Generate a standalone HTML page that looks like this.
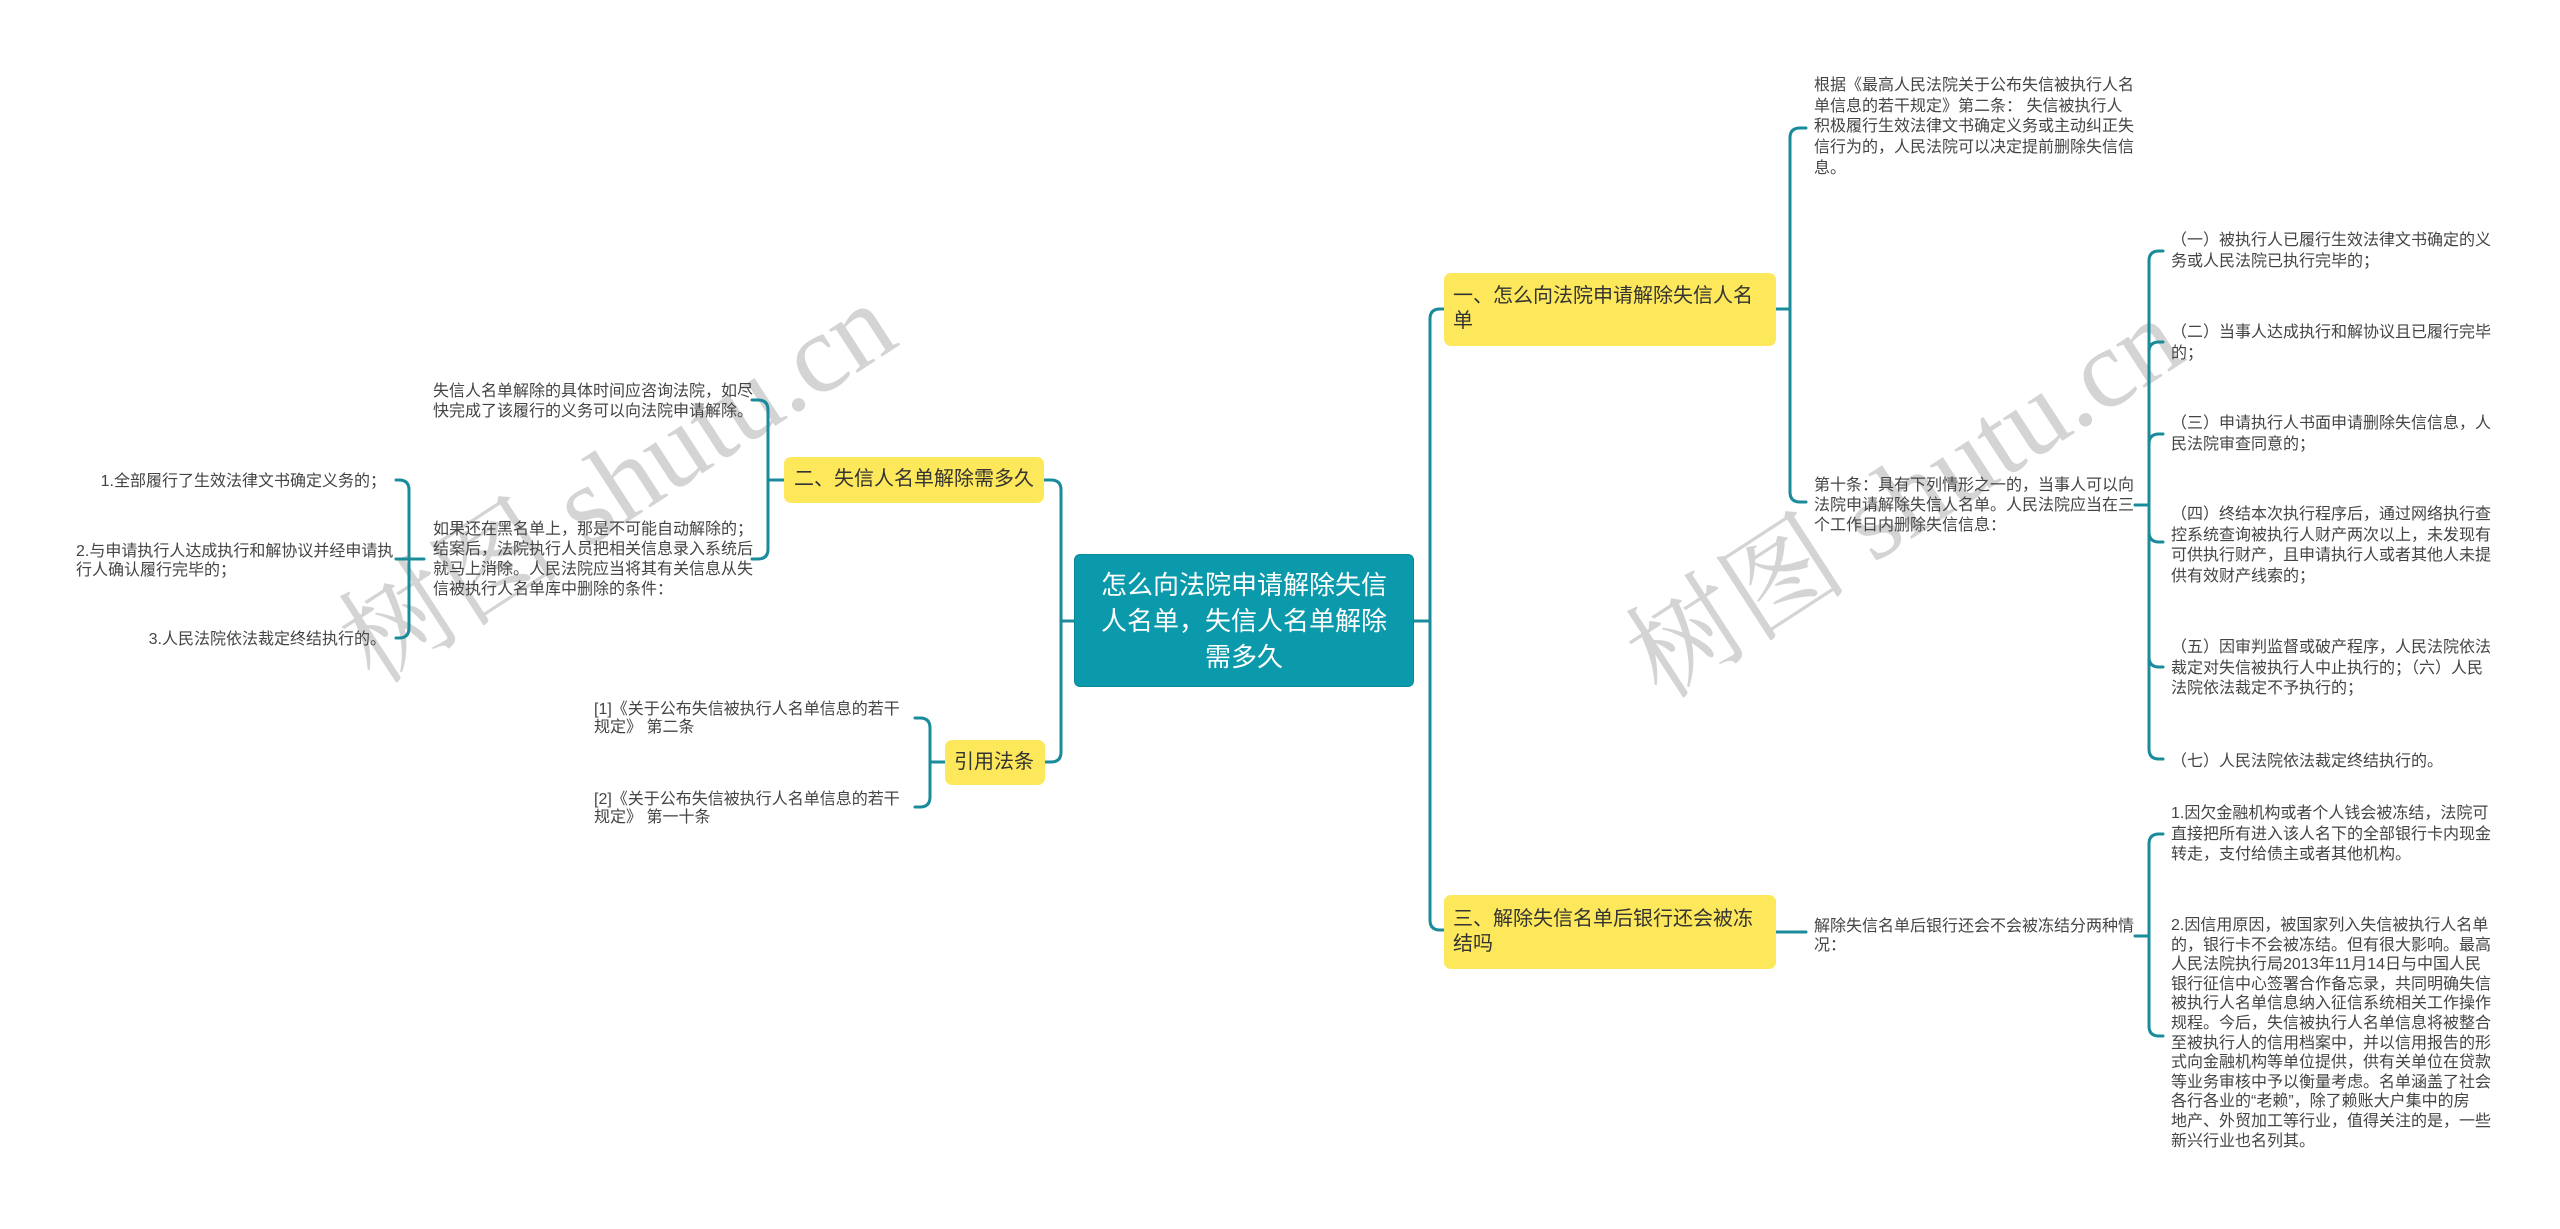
<!DOCTYPE html>
<html><head><meta charset="utf-8">
<style>
html,body{margin:0;padding:0;background:#fff;}
body{width:2560px;height:1229px;position:relative;overflow:hidden;font-family:"Liberation Sans","Noto Sans CJK SC",sans-serif;}
.t{position:absolute;font-size:16px;color:#444;line-height:21px;white-space:nowrap;}
.y{position:absolute;background:#fde75a;border-radius:7px;color:#333;font-size:20px;line-height:25px;box-sizing:border-box;}
.c{position:absolute;background:#0b9aab;border-radius:6px;color:#fff;font-size:26px;line-height:36px;text-align:center;box-sizing:border-box;border:1px solid #08899a;}
.wm{position:absolute;font-family:"Liberation Serif","Noto Serif CJK SC",serif;font-size:112px;color:#d4d4d4;white-space:nowrap;transform-origin:0 100%;transform:rotate(-33deg);line-height:1;}
svg{position:absolute;left:0;top:0;}
</style></head><body>
<div class="wm" style="left:385px;top:590px;">树图 shutu.cn</div>
<div class="wm" style="left:1672px;top:605px;">树图 shutu.cn</div>
<svg width="2560" height="1229" fill="none" stroke="#1a8b9a" stroke-width="3" stroke-linecap="round">
<path d="M1414 621 H1430 V319 Q1430 309 1440 309 H1444"/>
<path d="M1430 621 V920 Q1430 930 1440 930 H1444"/>
<path d="M1074 621 H1061 V490 Q1061 480 1051 480 H1044"/>
<path d="M1061 621 V752 Q1061 762 1051 762 H1044"/>
<path d="M784 480 H768 V410 Q768 400 758 400 H752"/>
<path d="M768 480 V549 Q768 559 758 559 H752"/>
<path d="M424 559 H396"/>
<path d="M409 559 V490 Q409 480 399 480 H396"/>
<path d="M409 559 V628 Q409 638 399 638 H396"/>
<path d="M945 762 H930 V728 Q930 718 920 718 H915"/>
<path d="M930 762 V797 Q930 807 920 807 H915"/>
<path d="M1776 309 H1790 V138 Q1790 128 1800 128 H1806"/>
<path d="M1790 309 V492 Q1790 502 1800 502 H1806"/>
<path d="M2135 505 H2149 V261 Q2149 251 2159 251 H2163"/>
<path d="M2149 505 V352 Q2149 342 2159 342 H2163"/>
<path d="M2149 505 V444 Q2149 434 2159 434 H2163"/>
<path d="M2149 505 V532 Q2149 542 2159 542 H2163"/>
<path d="M2149 505 V657 Q2149 667 2159 667 H2163"/>
<path d="M2149 505 V749 Q2149 759 2159 759 H2163"/>
<path d="M1776 932 H1806"/>
<path d="M2135 936 H2149 V844 Q2149 834 2159 834 H2163"/>
<path d="M2149 936 V1026 Q2149 1036 2159 1036 H2163"/>
</svg>

<div class="c" style="left:1074px;top:554px;width:340px;height:133px;padding-top:12px;">怎么向法院申请解除失信<br>人名单，失信人名单解除<br>需多久</div>

<div class="y" style="left:1444px;top:273px;width:332px;height:73px;padding:11px 0 0 9px;">一、怎么向法院申请解除失信人名<br>单</div>
<div class="y" style="left:1444px;top:895px;width:332px;height:74px;padding:12px 0 0 9px;">三、解除失信名单后银行还会被冻<br>结吗</div>
<div class="y" style="left:784px;top:457px;width:260px;height:46px;padding:10px 0 0 10px;">二、失信人名单解除需多久</div>
<div class="y" style="left:945px;top:740px;width:100px;height:45px;padding:10px 0 0 9px;">引用法条</div>

<div class="t" style="left:433px;top:382px;line-height:20px;">失信人名单解除的具体时间应咨询法院，如尽<br>快完成了该履行的义务可以向法院申请解除。</div>
<div class="t" style="left:433px;top:520px;line-height:20px;">如果还在黑名单上，那是不可能自动解除的；<br>结案后，法院执行人员把相关信息录入系统后<br>就马上消除。人民法院应当将其有关信息从失<br>信被执行人名单库中删除的条件：</div>
<div class="t" style="left:60px;top:471px;width:326px;text-align:right;">1.全部履行了生效法律文书确定义务的；</div>
<div class="t" style="left:76px;top:542px;line-height:19px;">2.与申请执行人达成执行和解协议并经申请执<br>行人确认履行完毕的；</div>
<div class="t" style="left:60px;top:629px;width:326px;text-align:right;">3.人民法院依法裁定终结执行的。</div>
<div class="t" style="left:594px;top:701px;line-height:18px;">[1]《关于公布失信被执行人名单信息的若干<br>规定》 第二条</div>
<div class="t" style="left:594px;top:791px;line-height:18px;">[2]《关于公布失信被执行人名单信息的若干<br>规定》 第一十条</div>

<div class="t" style="left:1814px;top:76px;line-height:20.7px;">根据《最高人民法院关于公布失信被执行人名<br>单信息的若干规定》第二条： 失信被执行人<br>积极履行生效法律文书确定义务或主动纠正失<br>信行为的，人民法院可以决定提前删除失信信<br>息。</div>
<div class="t" style="left:1814px;top:476px;line-height:20px;">第十条：具有下列情形之一的，当事人可以向<br>法院申请解除失信人名单。人民法院应当在三<br>个工作日内删除失信信息：</div>
<div class="t" style="left:2171px;top:230px;line-height:21px;"> （一）被执行人已履行生效法律文书确定的义<br>务或人民法院已执行完毕的；</div>
<div class="t" style="left:2171px;top:322px;line-height:21px;"> （二）当事人达成执行和解协议且已履行完毕<br>的；</div>
<div class="t" style="left:2171px;top:413px;line-height:21px;"> （三）申请执行人书面申请删除失信信息，人<br>民法院审查同意的；</div>
<div class="t" style="left:2171px;top:505px;line-height:20.7px;"> （四）终结本次执行程序后，通过网络执行查<br>控系统查询被执行人财产两次以上，未发现有<br>可供执行财产，且申请执行人或者其他人未提<br>供有效财产线索的；</div>
<div class="t" style="left:2171px;top:638px;line-height:20.5px;"> （五）因审判监督或破产程序，人民法院依法<br>裁定对失信被执行人中止执行的；（六）人民<br>法院依法裁定不予执行的；</div>
<div class="t" style="left:2171px;top:751px;"> （七）人民法院依法裁定终结执行的。</div>

<div class="t" style="left:1814px;top:917px;line-height:19px;">解除失信名单后银行还会不会被冻结分两种情<br>况：</div>
<div class="t" style="left:2171px;top:804px;line-height:20.5px;">1.因欠金融机构或者个人钱会被冻结，法院可<br>直接把所有进入该人名下的全部银行卡内现金<br>转走，支付给债主或者其他机构。</div>
<div class="t" style="left:2171px;top:916px;line-height:19.6px;">2.因信用原因，被国家列入失信被执行人名单<br>的，银行卡不会被冻结。但有很大影响。最高<br>人民法院执行局2013年11月14日与中国人民<br>银行征信中心签署合作备忘录，共同明确失信<br>被执行人名单信息纳入征信系统相关工作操作<br>规程。今后，失信被执行人名单信息将被整合<br>至被执行人的信用档案中，并以信用报告的形<br>式向金融机构等单位提供，供有关单位在贷款<br>等业务审核中予以衡量考虑。名单涵盖了社会<br>各行各业的“老赖”，除了赖账大户集中的房<br>地产、外贸加工等行业，值得关注的是，一些<br>新兴行业也名列其。</div>
</body></html>
